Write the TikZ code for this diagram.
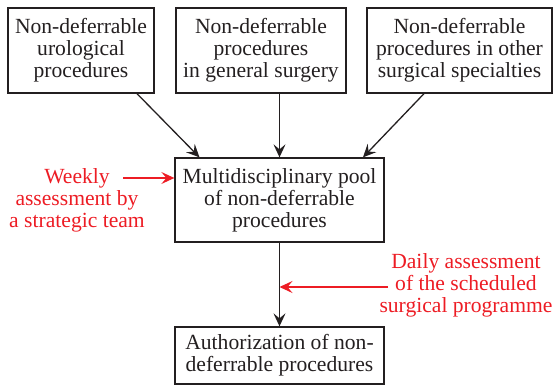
\documentclass[tikz,border=0pt]{standalone}
\usepackage{fontspec}
\setmainfont{Liberation Serif}
\usetikzlibrary{arrows.meta}
\definecolor{notered}{RGB}{237,28,36}
\definecolor{inkgray}{RGB}{35,31,32}
\tikzset{>={Stealth[length=6.5pt,width=6pt,inset=2.5pt]}}
\tikzset{procbox/.style={draw=inkgray,line width=0.65pt,align=center,inner sep=2pt,text=inkgray},
  note/.style={align=center,text=notered}}

\begin{document}
\begin{tikzpicture}[x=0.5pt,y=-0.5pt]
\fontsize{10.8}{11}\selectfont
\useasboundingbox (0,0) rectangle (553,386);

% source boxes
\node[procbox,minimum width=73pt,minimum height=42.5pt] (uro) at (81,50.5) {Non-deferrable\\urological\\procedures};
\node[procbox,minimum width=85pt,minimum height=42.5pt] (gen) at (261,50.5) {Non-deferrable\\procedures\\in general surgery};
\node[procbox,minimum width=92.5pt,minimum height=42.5pt] (oth) at (459.5,50.5) {Non-deferrable\\procedures in other\\surgical specialties};

\node[procbox,minimum width=104.5pt,minimum height=42pt] (pool) at (279.5,200) {Multidisciplinary pool\\of non-deferrable\\procedures};
\node[procbox,minimum width=104.5pt,minimum height=28.5pt] (auth) at (279.5,355.5) {Authorization of non-\\deferrable procedures};

\draw[->,inkgray,line width=0.65pt] ([xshift=28pt]uro.south) -- ([xshift=-40pt]pool.north);
\draw[->,inkgray,line width=0.65pt] (gen.south -| pool.north) -- (pool.north);
\draw[->,inkgray,line width=0.65pt] ([xshift=-17.75pt]oth.south) -- ([xshift=41.75pt]pool.north);
\draw[->,inkgray,line width=0.65pt] (pool.south) -- (auth.north);

% assessments
\node[note] (weekly) at (77,200) {Weekly\\assessment by\\a strategic team};
\coordinate (wk) at (123,178);
\draw[->,notered,line width=0.65pt] (wk) -- (wk -| pool.west);

\node[note] (daily) at (466,285) {Daily assessment\\of the scheduled\\surgical programme};
\coordinate (dl) at (388,287);
\draw[->,notered,line width=0.65pt] (dl) -- (dl -| pool.south);

\end{tikzpicture}
\end{document}
